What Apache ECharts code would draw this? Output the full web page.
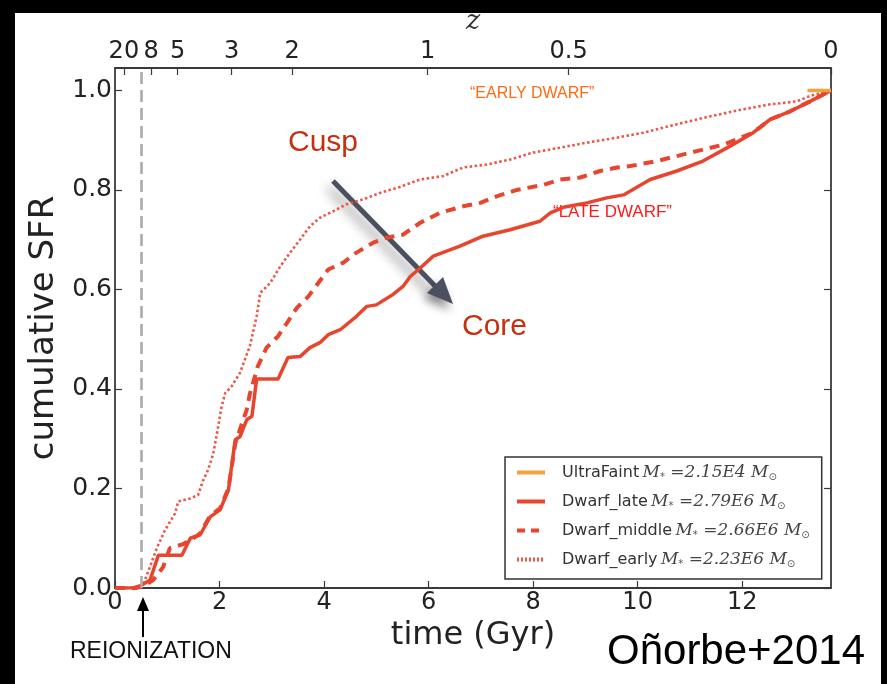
<!DOCTYPE html>
<html><head><meta charset="utf-8">
<script src="https://cdn.jsdelivr.net/npm/echarts@6/dist/echarts.min.js"></script>
<style>html,body{margin:0;padding:0;background:#fff}#c{width:887px;height:684px}</style>
</head><body><div id="c"></div>
<script>
// ---------------- data ----------------
const seriesNames = ['UltraFaint', 'Dwarf_late', 'Dwarf_middle', 'Dwarf_early'];
const stellarMasses = ['2.15E4', '2.79E6', '2.66E6', '2.23E6'];

const ultraFaint = [[13.25, 1.0], [13.7, 1.0]];

const dwarfLate = [[0,0],[0.35,0],[0.5,0.005],[0.67,0.016],[0.78,0.05],[0.83,0.066],[1.28,0.066],[1.44,0.10],[1.63,0.107],[1.82,0.143],[2.01,0.157],[2.17,0.197],[2.30,0.298],[2.39,0.304],[2.52,0.338],[2.62,0.345],[2.71,0.42],[3.12,0.42],[3.31,0.463],[3.54,0.465],[3.73,0.483],[3.92,0.493],[4.08,0.509],[4.31,0.519],[4.62,0.546],[4.82,0.566],[5.0,0.569],[5.32,0.59],[5.51,0.606],[5.65,0.626],[5.84,0.643],[6.09,0.667],[6.6,0.687],[7.04,0.707],[7.56,0.72],[8.13,0.737],[8.33,0.754],[8.58,0.765],[9.03,0.774],[9.41,0.784],[9.73,0.79],[10.24,0.821],[10.75,0.838],[11.25,0.858],[11.77,0.888],[12.21,0.915],[12.54,0.942],[12.92,0.958],[13.3,0.978],[13.7,1.0]];

const dwarfMiddle = [[0,0],[0.4,0],[0.55,0.004],[0.73,0.016],[0.92,0.042],[1.05,0.08],[1.3,0.088],[1.5,0.10],[1.63,0.11],[1.82,0.145],[2.01,0.16],[2.17,0.2],[2.30,0.29],[2.42,0.328],[2.52,0.358],[2.58,0.39],[2.73,0.445],[2.9,0.483],[3.12,0.506],[3.31,0.536],[3.48,0.563],[3.7,0.586],[3.89,0.613],[4.08,0.64],[4.37,0.654],[4.62,0.674],[4.94,0.694],[5.2,0.704],[5.51,0.71],[5.84,0.734],[6.22,0.754],[6.66,0.767],[6.99,0.774],[7.3,0.787],[7.69,0.8],[8.19,0.81],[8.52,0.821],[8.9,0.825],[9.28,0.838],[9.6,0.845],[9.86,0.848],[10.37,0.858],[10.75,0.868],[11.13,0.878],[11.64,0.891],[12.21,0.915],[12.54,0.942],[12.92,0.958],[13.3,0.978],[13.7,1.0]];

const dwarfEarly = [[0,0],[0.45,0],[0.55,0.01],[0.67,0.043],[0.8,0.08],[0.96,0.117],[1.15,0.15],[1.21,0.174],[1.44,0.18],[1.59,0.187],[1.69,0.217],[1.78,0.237],[1.88,0.27],[1.95,0.31],[2.04,0.365],[2.11,0.392],[2.23,0.405],[2.39,0.432],[2.58,0.486],[2.71,0.546],[2.78,0.593],[2.97,0.613],[3.16,0.646],[3.35,0.674],[3.54,0.7],[3.73,0.727],[3.92,0.744],[4.17,0.757],[4.43,0.771],[4.75,0.781],[5.07,0.794],[5.45,0.806],[5.84,0.821],[6.28,0.828],[6.66,0.845],[7.11,0.851],[7.56,0.861],[8.0,0.875],[8.52,0.885],[9.03,0.895],[9.6,0.905],[10.11,0.915],[10.75,0.932],[11.39,0.948],[12.02,0.962],[12.54,0.972],[13.05,0.978],[13.3,0.989],[13.7,1.0]];

const timeTicks = [0, 2, 4, 6, 8, 10, 12];
const sfrTicks = [0, 0.2, 0.4, 0.6, 0.8, 1.0];
const zTickLabels = ['20', '8', '5', '3', '2', '1', '0.5', '0'];
const zTickTimes = [0.17, 0.69, 1.2, 2.23, 3.39, 5.98, 8.68, 13.7];
const reionizationTime = 0.5;

// ---------------- chart ----------------
const RED = '#e8452f';
const AXC = '#3a3a3a';
const chart = echarts.init(document.getElementById('c'), null, {renderer: 'canvas'});

const axisCommon = {
  axisLine: {show: true, onZero: false, lineStyle: {color: AXC, width: 1.8}},
  axisTick: {show: true, inside: true, length: 7, lineStyle: {color: AXC, width: 1.2}},
  splitLine: {show: false}
};

const seriesData = [ultraFaint, dwarfLate, dwarfMiddle, dwarfEarly];
const seriesStyles = [
  {color: '#f4a23a', width: 3.5, type: 'solid'},
  {color: RED, width: 3.5, type: 'solid'},
  {color: RED, width: 4, type: [10, 7]},
  {color: '#ee5646', width: 2.6, type: [2.5, 2.5]}
];

const series = [{
  type: 'line', name: 'reion', data: [], silent: true, z: 1,
  markLine: {
    silent: true, symbol: 'none', label: {show: false},
    lineStyle: {color: '#ababab', width: 2.6, type: [12, 6]},
    data: [{xAxis: reionizationTime}]
  }
}];
seriesNames.forEach((n, i) => {
  series.push({
    type: 'line', name: n, data: seriesData[i], symbol: 'none', showSymbol: false,
    xAxisIndex: 0, yAxisIndex: 0, z: i === 0 ? 6 : 5 - i,
    color: seriesStyles[i].color,
    lineStyle: {color: seriesStyles[i].color, width: seriesStyles[i].width, type: seriesStyles[i].type, cap: 'butt'},
    animation: false
  });
});

const legendDash = [[], [], [8, 6], [2, 2]];

const option = {
  backgroundColor: '#ffffff',
  animation: false,
  grid: {left: 115, right: 56, top: 68, bottom: 96, containLabel: false},
  xAxis: [
    Object.assign({}, axisCommon, {
      type: 'value', position: 'bottom', min: 0, max: 13.7,
      axisTick: Object.assign({}, axisCommon.axisTick, {customValues: timeTicks}),
      axisLabel: {customValues: timeTicks, margin: 3, fontFamily: 'DejaVu Sans', fontSize: 24, color: '#222'},
      name: 'time (Gyr)', nameLocation: 'middle', nameGap: 27,
      nameTextStyle: {fontFamily: 'DejaVu Sans', fontSize: 32, color: '#222'}
    }),
    Object.assign({}, axisCommon, {
      type: 'value', position: 'top', min: 0, max: 13.7,
      axisTick: Object.assign({}, axisCommon.axisTick, {customValues: zTickTimes}),
      axisLabel: {customValues: zTickTimes, margin: 4, fontFamily: 'DejaVu Sans', fontSize: 24, color: '#222',
        formatter: v => { const k = zTickTimes.indexOf(v); return k >= 0 ? zTickLabels[k] : ''; }},
      name: 'z', nameLocation: 'middle', nameGap: 30,
      nameTextStyle: {fontFamily: 'DejaVu Serif', fontStyle: 'italic', fontSize: 27, color: '#333'}
    })
  ],
  yAxis: [
    Object.assign({}, axisCommon, {
      type: 'value', position: 'left', min: 0, max: 1.045,
      axisTick: Object.assign({}, axisCommon.axisTick, {customValues: sfrTicks}),
      axisLabel: {customValues: sfrTicks, margin: 3, fontFamily: 'DejaVu Sans', fontSize: 25, color: '#222',
        formatter: v => v.toFixed(1)},
      name: 'cumulative SFR', nameLocation: 'middle', nameGap: 48,
      nameTextStyle: {fontFamily: 'DejaVu Sans', fontSize: 34, color: '#222'}
    }),
    Object.assign({}, axisCommon, {
      type: 'value', position: 'right', min: 0, max: 1.045,
      axisTick: Object.assign({}, axisCommon.axisTick, {customValues: sfrTicks}),
      axisLabel: {show: false}
    })
  ],
  legend: {
    orient: 'vertical', left: 505, top: 457,
    data: seriesNames.map((n, i) => ({
      name: n,
      itemStyle: {opacity: 0},
      lineStyle: {width: 4, color: seriesStyles[i].color, type: legendDash[i].length ? legendDash[i] : 'solid', opacity: 1}
    })),
    itemWidth: 28, itemHeight: 14, itemGap: 10,
    padding: [6, 12, 10, 10],
    borderColor: '#333', borderWidth: 1.5, backgroundColor: '#fff', borderRadius: 0,
    formatter: name => {
      const m = stellarMasses[seriesNames.indexOf(name)];
      return '{n|' + name + '} {m|M}{s|*}{m| =' + m + ' M}{s|\u2299}';
    },
    textStyle: {
      color: '#333', lineHeight: 19,
      rich: {
        n: {fontFamily: 'DejaVu Sans', fontSize: 16, color: '#333', padding: [0, 0, 0, 12]},
        m: {fontFamily: 'DejaVu Serif', fontStyle: 'italic', fontSize: 17, color: '#444'},
        s: {fontFamily: 'DejaVu Sans', fontSize: 10, color: '#555', padding: [9, 0, 0, 0], verticalAlign: 'bottom'}
      }
    }
  },
  graphic: [
    {type: 'rect', shape: {x: 0, y: 0, width: 887, height: 13}, style: {fill: '#000'}, silent: true},
    {type: 'rect', shape: {x: 0, y: 0, width: 15, height: 684}, style: {fill: '#000'}, silent: true},
    {type: 'rect', shape: {x: 881, y: 0, width: 6, height: 684}, style: {fill: '#000'}, silent: true},
    {type: 'text', x: 288, y: 143, style: {text: 'Cusp', fill: '#c3310f', font: '30px "Liberation Sans", Arial', textVerticalAlign: 'middle'}},
    {type: 'text', x: 462, y: 327, style: {text: 'Core', fill: '#c3310f', font: '30px "Liberation Sans", Arial', textVerticalAlign: 'middle'}},
    {type: 'text', x: 470, y: 94, style: {text: '\u201CEARLY DWARF\u201D', fill: '#ff6a13', font: '16px "Liberation Sans", Arial', textVerticalAlign: 'middle'}},
    {type: 'text', x: 553, y: 212, style: {text: '\u201CLATE DWARF\u201D', fill: '#ff1a1a', font: '17px "Liberation Sans", Arial', textVerticalAlign: 'middle'}},
    {type: 'text', x: 70, y: 652, style: {text: 'REIONIZATION', fill: '#111', font: '23px "Liberation Sans", Arial', textVerticalAlign: 'middle'}},
    {type: 'text', x: 607, y: 652, style: {text: 'O\u00F1orbe+2014', fill: '#000', font: '42px "Liberation Sans", Arial', textVerticalAlign: 'middle'}},
    {type: 'line', shape: {x1: 143, y1: 637, x2: 143, y2: 608}, style: {stroke: '#000', lineWidth: 2}},
    {type: 'polygon', shape: {points: [[143, 597], [137, 611], [149, 611]]}, style: {fill: '#000'}},
    {type: 'group', children: [
      {type: 'line', shape: {x1: 333, y1: 181, x2: 438, y2: 289}, style: {stroke: '#4a505e', lineWidth: 5, shadowBlur: 12, shadowColor: 'rgba(0,0,0,0.45)', shadowOffsetX: -4, shadowOffsetY: 7}},
      {type: 'polygon', shape: {points: [[453, 304], [427, 293], [443, 277]]}, style: {fill: '#4a505e', shadowBlur: 10, shadowColor: 'rgba(0,0,0,0.45)', shadowOffsetX: -3, shadowOffsetY: 6}}
    ]}
  ],
  series: series
};
chart.setOption(option);
</script>
</body></html>
